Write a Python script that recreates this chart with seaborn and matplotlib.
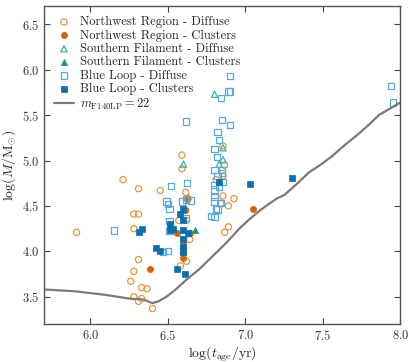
import matplotlib
matplotlib.use("Agg")
import matplotlib.pyplot as plt
import seaborn as sns
import pandas as pd

# Northwest Region - diffuse (open circles)
nw_diff_age = [5.91, 6.21, 6.31, 6.45, 6.28, 6.31, 6.28, 6.31, 6.28, 6.26, 6.33, 6.365, 6.28, 6.31, 6.33, 6.40,
               6.59, 6.59, 6.615, 6.63, 6.615, 6.57, 6.62, 6.64, 6.60, 6.60, 6.58, 6.62,
               6.855, 6.865, 6.855, 6.81, 6.855, 6.925, 6.84, 6.89, 6.89, 6.865]
nw_diff_mass = [4.21, 4.79, 4.69, 4.67, 4.41, 4.41, 4.25, 3.91, 3.78, 3.67, 3.60, 3.59, 3.50, 3.45, 3.48, 3.37,
                5.06, 4.91, 4.65, 4.58, 4.45, 4.34, 4.34, 4.13, 4.03, 3.98, 3.84, 3.89,
                5.16, 4.95, 4.83, 4.79, 4.61, 4.58, 4.53, 4.50, 4.27, 4.21]

# Northwest Region - clusters
nw_cl_age = [6.62, 6.61, 6.56, 6.64, 6.60, 6.60, 6.60, 6.60, 6.385, 7.05]
nw_cl_mass = [4.58, 4.46, 4.20, 4.20, 4.08, 4.04, 3.98, 3.93, 3.81, 4.47]

# Southern Filament
sf_diff_age = [6.80, 6.855, 6.855, 6.83, 6.60]
sf_diff_mass = [5.73, 5.14, 5.01, 4.96, 4.96]
sf_cl_age = [6.675]
sf_cl_mass = [4.24]

# Blue Loop - diffuse
bl_diff_age = [6.90, 7.94, 7.95, 6.89, 6.90, 6.84, 6.615, 6.85, 6.90, 6.82, 6.83, 6.80, 6.815, 6.80, 6.85, 6.85,
               6.625, 6.52, 6.855, 6.80, 6.80, 6.83, 6.80, 6.80, 6.84, 6.81, 6.82, 6.78, 6.80, 6.82,
               6.49, 6.50, 6.51, 6.59, 6.615, 6.65, 6.615, 6.51, 6.51, 6.60, 6.50, 6.47, 6.15]
bl_diff_mass = [5.93, 5.82, 5.64, 5.76, 5.76, 5.69, 5.43, 5.45, 5.39, 5.31, 5.23, 5.13, 5.04, 4.90, 4.90, 4.86,
                4.75, 4.72, 4.76, 4.73, 4.68, 4.71, 4.60, 4.55, 4.53, 4.47, 4.46, 4.39, 4.38, 4.83,
                4.55, 4.52, 4.47, 4.55, 4.57, 4.56, 4.37, 4.33, 4.22, 4.19, 4.00, 3.99, 4.23]

# Blue Loop - clusters
bl_cl_age = [6.83, 7.03, 7.30, 6.60, 6.58, 6.60, 6.51, 6.33, 6.31, 6.51, 6.53, 6.60, 6.63, 6.60,
             6.42, 6.45, 6.60, 6.60, 6.56, 6.61]
bl_cl_mass = [4.76, 4.74, 4.81, 4.47, 4.41, 4.34, 4.30, 4.25, 4.21, 4.24, 4.25, 4.24, 4.20, 4.14,
              4.04, 4.00, 4.05, 3.99, 3.81, 3.75]

# detection limit curve m_F140LP = 22
lim_age = [5.70, 5.90, 6.10, 6.25, 6.34, 6.40, 6.44, 6.49, 6.55, 6.62, 6.70, 6.79, 6.88, 6.96, 7.03,
           7.10, 7.20, 7.25, 7.33, 7.41, 7.49, 7.56, 7.64, 7.72, 7.80, 7.86, 7.92, 8.00]
lim_mass = [3.58, 3.56, 3.52, 3.48, 3.47, 3.43, 3.45, 3.50, 3.58, 3.69, 3.80, 3.95, 4.10, 4.25, 4.36,
            4.46, 4.58, 4.62, 4.74, 4.87, 4.96, 5.05, 5.17, 5.28, 5.40, 5.50, 5.56, 5.64]

sns.set_style("ticks")
plt.rcParams["font.family"] = "serif"
plt.rcParams["font.serif"] = ["cmr10", "DejaVu Serif"]
plt.rcParams["mathtext.fontset"] = "cm"
plt.rcParams["axes.unicode_minus"] = False
plt.rcParams["axes.formatter.use_mathtext"] = True

fig, ax = plt.subplots(figsize=(4.15, 3.62), dpi=100)
fig.subplots_adjust(left=0.106, right=0.965, top=0.983, bottom=0.105)

ms = 20
sns.scatterplot(x=nw_diff_age, y=nw_diff_mass, ax=ax, marker="o", s=ms, facecolor="none",
                edgecolor="#E5963A", linewidth=0.9, label="Northwest Region - Diffuse")
sns.scatterplot(x=nw_cl_age, y=nw_cl_mass, ax=ax, marker="o", s=ms, color="#D2640F",
                edgecolor="#D2640F", linewidth=0.5, label="Northwest Region - Clusters")
sns.scatterplot(x=sf_diff_age, y=sf_diff_mass, ax=ax, marker="^", s=ms, facecolor="none",
                edgecolor="#3DB597", linewidth=0.9, label="Southern Filament - Diffuse")
sns.scatterplot(x=sf_cl_age, y=sf_cl_mass, ax=ax, marker="^", s=ms, color="#11997A",
                edgecolor="#11997A", linewidth=0.5, label="Southern Filament - Clusters")
sns.scatterplot(x=bl_diff_age, y=bl_diff_mass, ax=ax, marker="s", s=ms, facecolor="none",
                edgecolor="#5AAAE0", linewidth=0.9, label="Blue Loop - Diffuse")
sns.scatterplot(x=bl_cl_age, y=bl_cl_mass, ax=ax, marker="s", s=ms, color="#0A6FB0",
                edgecolor="#0A6FB0", linewidth=0.5, label="Blue Loop - Clusters")

lim = pd.DataFrame({"age": lim_age, "mass": lim_mass})
sns.lineplot(data=lim, x="age", y="mass", ax=ax, sort=False, color="#7a7a7a", linewidth=1.6,
             label=r"$m_{\rm F140LP} = 22$")

ax.set_xlim(5.7, 8.0)
ax.set_ylim(3.2, 6.7)
ax.set_xticks([6.0, 6.5, 7.0, 7.5, 8.0])
ax.set_yticks([3.5, 4.0, 4.5, 5.0, 5.5, 6.0, 6.5])
ax.set_xlabel(r"$\log(t_{\rm age}/{\rm yr})$", fontsize=10, labelpad=1)
ax.set_ylabel(r"$\log(M/{\rm M}_{\odot})$", fontsize=10, labelpad=3)
ax.tick_params(direction="in", top=True, right=True, length=4, width=0.8, labelsize=9, colors="#444444",
               labelcolor="#333333")
for sp in ax.spines.values():
    sp.set_color("#555555")
    sp.set_linewidth(1.0)

ax.legend(loc="upper left", frameon=False, fontsize=9, handlelength=1.6, handletextpad=0.5,
          labelspacing=0.1, borderaxespad=0.4)

fig.savefig("out.png", dpi=100)
